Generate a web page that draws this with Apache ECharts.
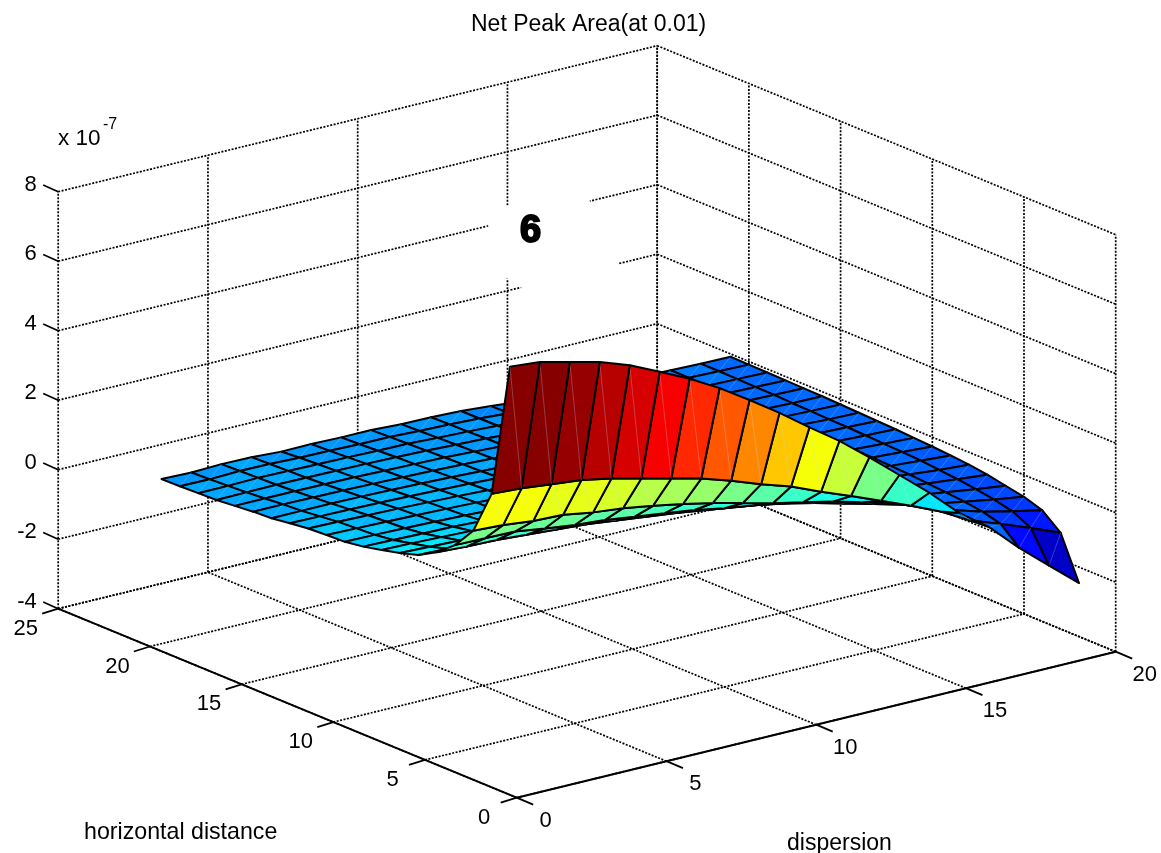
<!DOCTYPE html>
<html><head><meta charset="utf-8">
<style>html,body{margin:0;padding:0;background:#fff}#c{width:1161px;height:853px}</style>
<script src="https://cdn.jsdelivr.net/npm/echarts@6/dist/echarts.min.js"></script>
</head><body><div id="c"></div>
<script>
// Tick values and labels
const dispersionTicks = [0, 5, 10, 15, 20];
const distanceTicks = [0, 5, 10, 15, 20, 25];
const heightTicks = [-4, -2, 0, 2, 4, 6, 8];
// Grid of the surface
const dispersionValues = [1,2,3,4,5,6,7,8,9,10,11,12,13,14,15,16,17,18,19,20];
const distanceValues = [2,3,4,5,6,7,8,9,10,11,12,13,14,15,16,17,18,19,20,21];
// Surface heights (x 10^-7): one row per distance, one column per dispersion
const row02 = [7.76,7.68,7.47,7.26,6.96,6.56,6.15,5.67,5.12,4.54,3.91,3.31,2.63,1.91,1.19,0.40,-0.22,-1.03,-1.75,-2.46];
const row03 = [3.88,3.83,3.74,3.65,3.48,3.27,3.06,2.85,2.58,2.27,1.99,1.63,1.30,0.95,0.60,0.22,-0.25,-0.56,-0.88,-1.23];
const row04 = [2.60,2.56,2.46,2.43,2.29,2.20,2.06,1.90,1.72,1.51,1.29,1.11,0.92,0.69,0.45,0.14,-0.16,-0.42,-0.62,-0.80];
const row05 = [1.97,1.96,1.94,1.82,1.71,1.64,1.53,1.42,1.30,1.14,1.02,0.86,0.66,0.44,0.21,-0.02,-0.20,-0.35,-0.50,-0.63];
const row06 = [1.55,1.50,1.48,1.42,1.36,1.30,1.20,1.10,1.00,0.87,0.75,0.62,0.45,0.28,0.10,-0.05,-0.18,-0.30,-0.42,-0.53];
const row07 = [1.25,1.22,1.20,1.16,1.12,1.05,0.97,0.88,0.78,0.66,0.56,0.44,0.32,0.18,0.06,-0.06,-0.16,-0.26,-0.35,-0.43];
const row08 = [1.09,1.06,1.03,1.00,0.96,0.90,0.82,0.74,0.66,0.56,0.46,0.36,0.25,0.14,0.04,-0.06,-0.14,-0.22,-0.30,-0.36];
const row09 = [0.96,0.94,0.91,0.88,0.84,0.79,0.72,0.66,0.58,0.50,0.41,0.32,0.22,0.12,0.03,-0.05,-0.13,-0.19,-0.25,-0.31];
const row10 = [0.84,0.82,0.80,0.78,0.74,0.70,0.65,0.59,0.52,0.45,0.37,0.29,0.20,0.11,0.03,-0.05,-0.11,-0.17,-0.22,-0.27];
const row11 = [0.76,0.75,0.73,0.71,0.68,0.64,0.60,0.54,0.48,0.42,0.34,0.27,0.19,0.11,0.03,-0.04,-0.10,-0.15,-0.20,-0.24];
const row12 = [0.74,0.72,0.70,0.68,0.65,0.62,0.58,0.53,0.47,0.41,0.34,0.27,0.19,0.11,0.04,-0.03,-0.09,-0.14,-0.18,-0.21];
const row13 = [0.71,0.69,0.67,0.65,0.62,0.59,0.55,0.50,0.45,0.39,0.33,0.26,0.18,0.11,0.04,-0.03,-0.08,-0.13,-0.16,-0.19];
const row14 = [0.64,0.63,0.62,0.60,0.58,0.55,0.52,0.48,0.43,0.37,0.31,0.25,0.18,0.11,0.05,-0.02,-0.07,-0.11,-0.15,-0.17];
const row15 = [0.57,0.57,0.57,0.56,0.54,0.52,0.49,0.45,0.41,0.36,0.30,0.24,0.17,0.11,0.05,-0.01,-0.06,-0.10,-0.13,-0.15];
const row16 = [0.54,0.54,0.53,0.52,0.50,0.48,0.46,0.43,0.39,0.34,0.29,0.23,0.17,0.11,0.05,0.00,-0.05,-0.09,-0.12,-0.13];
const row17 = [0.49,0.49,0.49,0.48,0.47,0.45,0.43,0.41,0.37,0.33,0.28,0.22,0.16,0.10,0.05,0.00,-0.04,-0.08,-0.10,-0.12];
const row18 = [0.44,0.45,0.46,0.45,0.44,0.43,0.41,0.39,0.35,0.32,0.27,0.21,0.15,0.10,0.05,0.00,-0.04,-0.07,-0.09,-0.11];
const row19 = [0.42,0.42,0.44,0.43,0.41,0.40,0.38,0.37,0.33,0.30,0.26,0.20,0.14,0.09,0.04,0.00,-0.03,-0.06,-0.08,-0.10];
const row20 = [0.40,0.39,0.42,0.41,0.38,0.37,0.35,0.35,0.31,0.29,0.25,0.19,0.12,0.07,0.03,0.00,-0.03,-0.05,-0.07,-0.09];
const row21 = [0.39,0.37,0.40,0.39,0.34,0.35,0.33,0.33,0.29,0.28,0.25,0.18,0.10,0.05,0.02,-0.01,-0.03,-0.05,-0.07,-0.08];
const surfaceRows = [row02,row03,row04,row05,row06,row07,row08,row09,row10,row11,row12,row13,row14,row15,row16,row17,row18,row19,row20,row21];

const titleText = 'Net Peak Area(at 0.01)';
const xName = 'dispersion';
const yName = 'horizontal distance';

// Oblique view of the box
const FRONT = [516.7, 797.7];
const X_SPAN = [599, -146];
const Y_SPAN = [-458.5, -189];
const Z_SPAN = -417;
const xMax = 20, yMax = 25, zMin = -4, zMax = 8;
function project(x, y, z) {
  const a = x / xMax, b = y / yMax, c = (z - zMin) / (zMax - zMin);
  return [FRONT[0] + a * X_SPAN[0] + b * Y_SPAN[0],
          FRONT[1] + a * X_SPAN[1] + b * Y_SPAN[1] + c * Z_SPAN];
}

// MATLAB jet, 64 levels
function jet(t) {
  const v = (Math.min(63, Math.floor(t * 64)) + 0.5) / 64;
  const ch = d => Math.max(0, Math.min(1, 1.5 - Math.abs(4 * v - d)));
  return 'rgb(' + [ch(3), ch(2), ch(1)].map(q => Math.round(q * 255)).join(',') + ')';
}
const allZ = surfaceRows.flat();
const cMin = Math.min(...allZ), cMax = Math.max(...allZ);

// Frame segments: [x1,y1,z1,x2,y2,z2,solid]
const segments = [];
dispersionTicks.forEach(x => {
  segments.push([x,0,zMin,x,yMax,zMin,0]);
  segments.push([x,yMax,zMin,x,yMax,zMax,0]);
});
distanceTicks.forEach(y => {
  segments.push([0,y,zMin,xMax,y,zMin,0]);
  segments.push([xMax,y,zMin,xMax,y,zMax,0]);
});
heightTicks.forEach(z => {
  segments.push([0,yMax,z,xMax,yMax,z,0]);
  segments.push([xMax,yMax,z,xMax,0,z,0]);
});
segments.push([0,0,zMin,xMax,0,zMin,1]);
segments.push([0,0,zMin,0,yMax,zMin,1]);

// Surface cells, far to near
const cells = [];
for (let j = distanceValues.length - 2; j >= 0; j--) {
  for (let i = dispersionValues.length - 2; i >= 0; i--) cells.push([i, j]);
}

// Tick labels: [text, x, y, z, dx, dy, tickDx, tickDy, align]
const tickLabels = [];
dispersionTicks.forEach(v => tickLabels.push([String(v), v, 0, zMin, 29, 23, 16.5, 7, 'center']));
distanceTicks.forEach(v => tickLabels.push([String(v), 0, v, zMin, -32.5, 20, -16, 5, 'center']));
heightTicks.forEach(v => tickLabels.push([String(v), 0, yMax, v, -21.5, -7, -15, -6.7, 'right']));

const FONT = '"Liberation Sans", Arial, sans-serif';
const chart = echarts.init(document.getElementById('c'), null, {renderer: 'canvas'});
chart.setOption({
  animation: false,
  backgroundColor: '#fff',
  title: {text: titleText, left: 466, top: 8, textStyle: {fontFamily: FONT, fontSize: 23, fontWeight: 'normal', color: '#000'}},
  grid: {left: 0, top: 0, right: 0, bottom: 0},
  xAxis: {type: 'value', min: 0, max: 1161, show: false},
  yAxis: {type: 'value', min: 0, max: 853, inverse: true, show: false},
  graphic: {elements: [
    {type: 'polygon', z: 50, shape: {points: [[488,225],[505,206],[589,199],[619,266],[525,290],[505,277]]}, style: {fill: '#fff'}},
    {type: 'text', z: 51, left: 519, top: 212, style: {text: '6', font: 'bold 38px ' + FONT, fill: '#000', stroke: '#000', lineWidth: 2}},
    {type: 'text', z: 51, left: 58, top: 127, style: {text: 'x 10', font: '22.5px ' + FONT, fill: '#000'}},
    {type: 'text', z: 51, left: 103, top: 117, style: {text: '-7', font: '16px ' + FONT, fill: '#000'}},
    {type: 'text', z: 51, left: 84, top: 821, style: {text: yName, font: '23.2px ' + FONT, fill: '#000'}},
    {type: 'text', z: 51, left: 787, top: 832, style: {text: xName, font: '23px ' + FONT, fill: '#000'}}
  ]},
  series: [
    {
      type: 'custom', name: 'frame', coordinateSystem: 'cartesian2d', silent: true, z: 1, clip: false,
      data: segments,
      renderItem(params, api) {
        const a = api.coord(project(api.value(0), api.value(1), api.value(2)));
        const b = api.coord(project(api.value(3), api.value(4), api.value(5)));
        const solid = api.value(6) === 1;
        return {type: 'line', shape: {x1: a[0], y1: a[1], x2: b[0], y2: b[1]},
          style: {stroke: '#000', lineWidth: solid ? 2 : 1.7, lineDash: solid ? null : [2, 1.5]}};
      }
    },
    {
      type: 'custom', name: 'ticks', coordinateSystem: 'cartesian2d', silent: true, z: 2, clip: false,
      data: tickLabels.map(t => t.slice(1, 8)),
      renderItem(params, api) {
        const t = tickLabels[params.dataIndex];
        const a = api.coord(project(t[1], t[2], t[3]));
        return {type: 'group', children: [
          {type: 'line', shape: {x1: a[0], y1: a[1], x2: a[0] + t[6], y2: a[1] + t[7]}, style: {stroke: '#000', lineWidth: 1.8}},
          {type: 'text', style: {x: a[0] + t[4], y: a[1] + t[5], text: t[0], font: '22px ' + FONT, fill: '#000', align: t[8], verticalAlign: 'middle'}}
        ]};
      }
    },
    {
      type: 'custom', name: 'surface', coordinateSystem: 'cartesian2d', silent: true, z: 3, clip: false,
      data: cells,
      renderItem(params, api) {
        const i = api.value(0), j = api.value(1);
        const pt = (a, b) => api.coord(project(dispersionValues[a], distanceValues[b], surfaceRows[b][a]));
        const p00 = pt(i, j), p10 = pt(i + 1, j), p11 = pt(i + 1, j + 1), p01 = pt(i, j + 1);
        const fill = jet((surfaceRows[j][i] - cMin) / (cMax - cMin));
        return {type: 'group', children: [
          {type: 'polygon', shape: {points: [p00, p10, p11, p01]}, style: {fill: fill, stroke: '#000', lineWidth: 2, lineJoin: 'round'}},
          {type: 'line', shape: {x1: p00[0], y1: p00[1], x2: p11[0], y2: p11[1]}, style: {stroke: 'rgba(190,215,240,0.4)', lineWidth: 0.7}}
        ]};
      }
    }
  ]
});
</script></body></html>
